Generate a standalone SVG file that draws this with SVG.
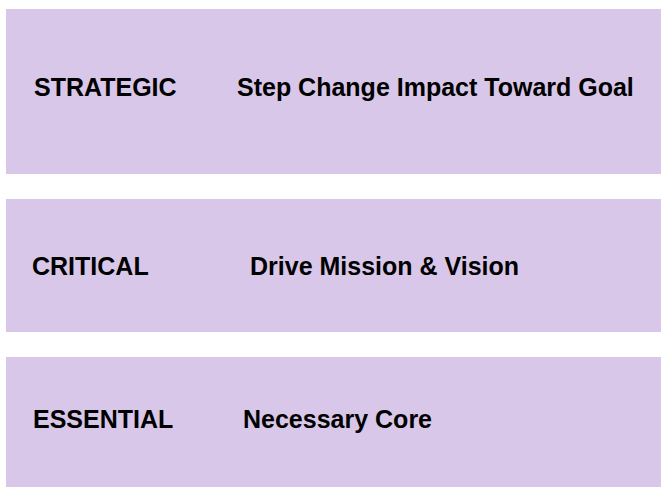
<svg xmlns="http://www.w3.org/2000/svg" width="661" height="487" viewBox="0 0 661 487">
  <style>
    .band { fill: #D8C7E8; }
    .lbl { font-family: "Liberation Sans", Arial, sans-serif; font-weight: bold; font-size: 25px; fill: #000; }
  </style>
  <rect width="661" height="487" fill="#fff"/>
  <g id="strategic">
    <rect class="band" x="6" y="9" width="655" height="165"/>
    <text class="lbl" x="34" y="95.5">STRATEGIC</text>
    <text class="lbl" x="237" y="95.5">Step Change Impact Toward Goal</text>
  </g>
  <g id="critical">
    <rect class="band" x="6" y="199" width="655" height="133"/>
    <text class="lbl" x="32" y="275">CRITICAL</text>
    <text class="lbl" x="250" y="275">Drive Mission &amp; Vision</text>
  </g>
  <g id="essential">
    <rect class="band" x="6" y="357" width="655" height="130"/>
    <text class="lbl" x="33" y="427.5">ESSENTIAL</text>
    <text class="lbl" x="243" y="427.5">Necessary Core</text>
  </g>
  <g id="connectors"/>
</svg>
